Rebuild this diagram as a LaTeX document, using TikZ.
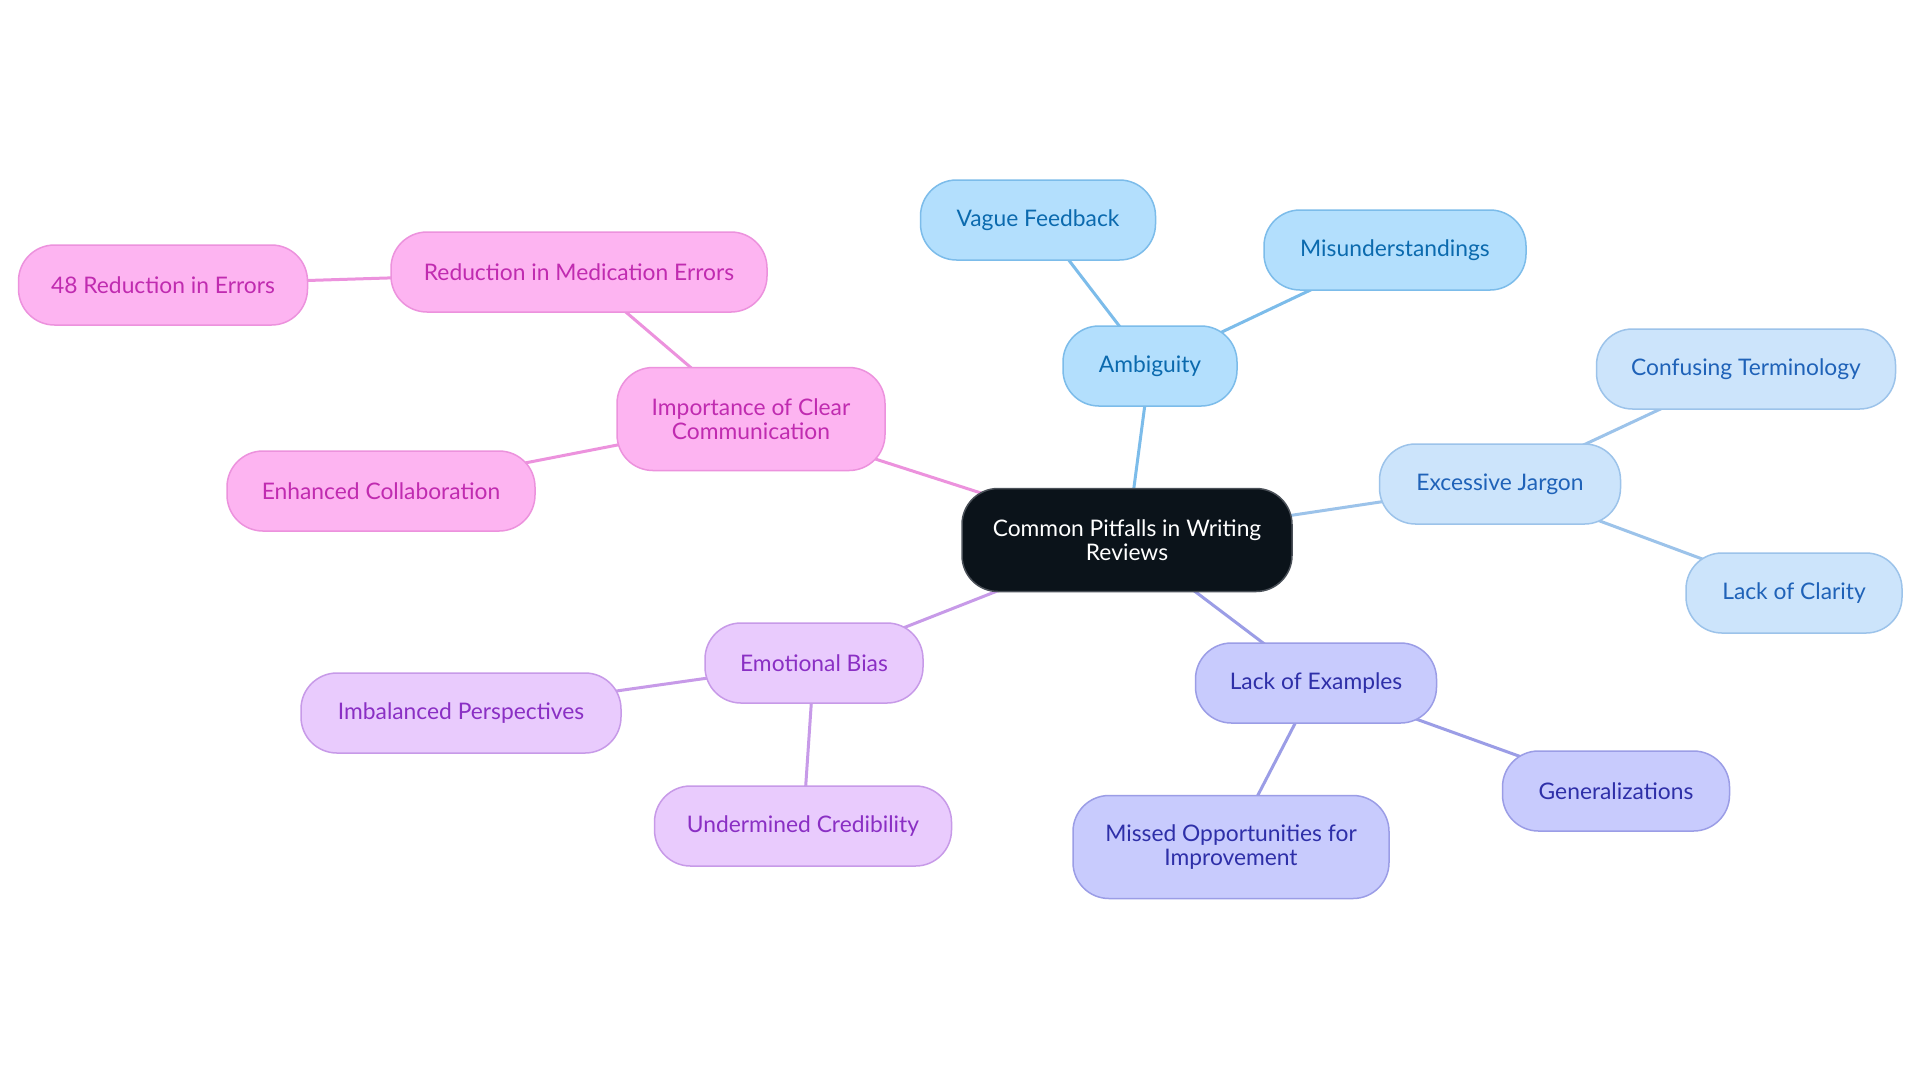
\documentclass[tikz,border=0pt]{standalone}
\usepackage{fontspec}
\setmainfont{Lato}
\usetikzlibrary{backgrounds}
\definecolor{cdark}{HTML}{0B131A}
\definecolor{cdarkb}{HTML}{4A5058}
\definecolor{bAf}{HTML}{B3DFFD}\definecolor{bAd}{HTML}{7CBCEA}\definecolor{bAt}{HTML}{0B6AAE}
\definecolor{bBf}{HTML}{CCE4FB}\definecolor{bBd}{HTML}{9CC3EA}\definecolor{bBt}{HTML}{1F62B8}
\definecolor{bCf}{HTML}{C8CBFD}\definecolor{bCd}{HTML}{9B9DE6}\definecolor{bCt}{HTML}{2E2FA8}
\definecolor{bDf}{HTML}{E9CBFD}\definecolor{bDd}{HTML}{C79AE8}\definecolor{bDt}{HTML}{8A2FC4}
\definecolor{bEf}{HTML}{FDB4F1}\definecolor{bEd}{HTML}{EC92DD}\definecolor{bEt}{HTML}{C02BB0}
\begin{document}
\begin{tikzpicture}[x=0.5pt,y=-0.5pt,
  box/.style={rounded corners=18pt, draw, line width=0.75pt, align=center,
    inner sep=0pt, minimum height=40pt, font=\fontsize{11.4}{11.8}\selectfont},
  tall/.style={minimum height=51.5pt},
  cA/.style={box, fill=bAf, draw=bAd, text=bAt},
  cB/.style={box, fill=bBf, draw=bBd, text=bBt},
  cC/.style={box, fill=bCf, draw=bCd, text=bCt},
  cD/.style={box, fill=bDf, draw=bDd, text=bDt},
  cE/.style={box, fill=bEf, draw=bEd, text=bEt},
  eA/.style={draw=bAd, line width=1.5pt},
  eB/.style={draw=bBd, line width=1.5pt},
  eC/.style={draw=bCd, line width=1.5pt},
  eD/.style={draw=bDd, line width=1.5pt},
  eE/.style={draw=bEd, line width=1.5pt}]
\useasboundingbox (0,0) rectangle (1920,1083);

\node[box, tall, fill=cdark, draw=cdarkb, text=white, minimum width=165pt] (c) at (1127,540) {Common Pitfalls in Writing\\Reviews};

\node[cA, minimum width=87pt] (amb) at (1150,366) {Ambiguity};
\node[cA, minimum width=117.5pt] (vag) at (1038,220) {Vague Feedback};
\node[cA, minimum width=131pt] (mis) at (1395,250) {Misunderstandings};

\node[cB, minimum width=120.5pt] (jar) at (1500,484) {Excessive Jargon};
\node[cB, minimum width=149.5pt] (ter) at (1746,369) {Confusing Terminology};
\node[cB, minimum width=108pt] (cla) at (1794,593) {Lack of Clarity};

\node[cC, minimum width=120.5pt] (exa) at (1316,683) {Lack of Examples};
\node[cC, minimum width=113.5pt] (gen) at (1616,791) {Generalizations};
\node[cC, tall, minimum width=158pt] (opp) at (1231,847) {Missed Opportunities for\\Improvement};

\node[cD, minimum width=109pt] (emo) at (814,663) {Emotional Bias};
\node[cD, minimum width=160pt] (imb) at (461,713) {Imbalanced Perspectives};
\node[cD, minimum width=148.5pt] (und) at (803,826) {Undermined Credibility};

\node[cE, tall, minimum width=134pt] (imp) at (751,419) {Importance of Clear\\Communication};
\node[cE, minimum width=188pt] (red) at (579,272) {Reduction in Medication Errors};
\node[cE, minimum width=144.5pt] (e48) at (163,285) {48 Reduction in Errors};
\node[cE, minimum width=154pt] (col) at (381,491) {Enhanced Collaboration};

\begin{scope}[on background layer]
\fill[white] (0,0) rectangle (1920,1083);
\draw[eA] (c.center) -- (amb.center);
\draw[eA] (amb.center) -- (vag.center);
\draw[eA] (amb.center) -- (mis.center);
\draw[eB] (c.center) -- (jar.center);
\draw[eB] (jar.center) -- (ter.center);
\draw[eB] (jar.center) -- (cla.center);
\draw[eC] (c.center) -- (exa.center);
\draw[eC] (exa.center) -- (gen.center);
\draw[eC] (exa.center) -- (opp.center);
\draw[eD] (c.center) -- (emo.center);
\draw[eD] (emo.center) -- (imb.center);
\draw[eD] (emo.center) -- (und.center);
\draw[eE] (c.center) -- (imp.center);
\draw[eE] (imp.center) -- (red.center);
\draw[eE] (red.center) -- (e48.center);
\draw[eE] (imp.center) -- (col.center);
\end{scope}
\end{tikzpicture}
\end{document}
